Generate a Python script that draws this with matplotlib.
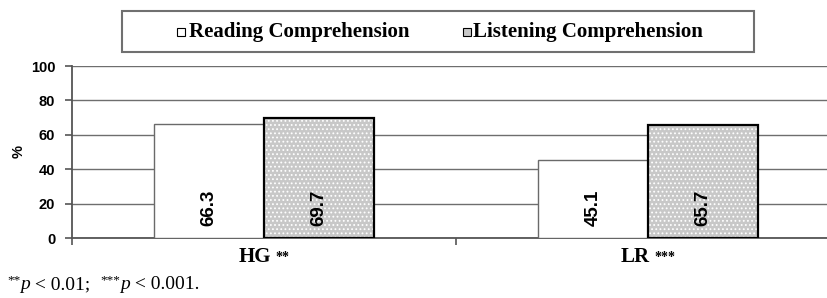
import matplotlib
matplotlib.use("Agg")
import matplotlib.pyplot as plt
from matplotlib.patches import Rectangle
from matplotlib.offsetbox import TextArea, HPacker, AnnotationBbox
import numpy as np

categories = ["HG", "LR"]
significance = ["**", "***"]
reading = [66.3, 45.1]
listening = [69.7, 65.7]
series_names = ["Reading Comprehension", "Listening Comprehension"]
yticks = [0, 20, 40, 60, 80, 100]

plt.rcParams['hatch.linewidth'] = 0.8

W, H = 827, 298
fig = plt.figure(figsize=(W / 100, H / 100), dpi=100)
ax = fig.add_axes([72 / W, (H - 238) / H, 768 / W, 172 / H])

x = np.arange(len(categories))
bw = 0.286
gray = "#c8c8c8"

ax.bar(x - bw / 2, reading, bw, color="white", edgecolor="#6a6a6a", linewidth=1.0, zorder=3)
ax.bar(x + bw / 2, listening, bw, color=gray, edgecolor="white", hatch="....", linewidth=0, zorder=3)
ax.bar(x + bw / 2, listening, bw, fill=False, edgecolor="black", linewidth=1.6, zorder=4)

for xi, v in zip(x - bw / 2, reading):
    ax.text(xi, 7, f"{v:.1f}", rotation=90, ha="center", va="bottom",
            fontsize=13.5, fontweight="bold", family="Liberation Sans", zorder=5)
for xi, v in zip(x + bw / 2, listening):
    ax.text(xi, 7, f"{v:.1f}", rotation=90, ha="center", va="bottom",
            fontsize=13.5, fontweight="bold", family="Liberation Sans", zorder=5)

ax.set_xlim(-0.5, 1.5)
ax.set_ylim(0, 100)
ax.set_yticks(yticks)
ax.set_yticklabels([str(t) for t in yticks], fontsize=10.5, fontweight="bold", family="Liberation Sans")
ax.yaxis.grid(True, color="#6e6e6e", linewidth=1.0, zorder=0)
ax.set_axisbelow(True)
ax.tick_params(axis="y", direction="out", length=5, width=1.2, color="#555555", pad=7)
ax.set_xticks([-0.5, 0.5, 1.5])
ax.set_xticklabels(["", "", ""])
ax.tick_params(axis="x", direction="out", length=5, width=1.2, color="#555555")
for s in ["top", "right"]:
    ax.spines[s].set_visible(False)
for s in ["left", "bottom"]:
    ax.spines[s].set_color("#555555")
    ax.spines[s].set_linewidth(1.3)

fig.text(19 / W, 1 - 152 / H, "%", rotation=90, ha="center", va="center",
         fontsize=10.5, fontweight="bold", family="Liberation Sans")

# category labels with significance stars
for xi, cat, sig in zip(x, categories, significance):
    t1 = TextArea(cat, textprops=dict(fontsize=15, fontweight="bold", family="Liberation Serif"))
    t2 = TextArea(sig, textprops=dict(fontsize=10, fontweight="bold", family="Liberation Serif"))
    pk = HPacker(children=[t1, t2], align="center", pad=0, sep=3)
    ab = AnnotationBbox(pk, (xi, 0), xycoords=("data", "axes fraction"),
                        xybox=(0, -14), boxcoords="offset points",
                        frameon=False, box_alignment=(0.5, 0.5), annotation_clip=False)
    ax.add_artist(ab)

# legend box
fig.add_artist(Rectangle((122 / W, 1 - 52 / H), (754 - 122) / W, 41 / H,
                         transform=fig.transFigure, fill=False,
                         edgecolor="#707070", linewidth=1.5))
sq = 8
fig.add_artist(Rectangle((177 / W, 1 - 36 / H), sq / W, sq / H, transform=fig.transFigure,
                         facecolor="white", edgecolor="black", linewidth=0.8))
fig.add_artist(Rectangle((463 / W, 1 - 36 / H), sq / W, sq / H, transform=fig.transFigure,
                         facecolor=gray, edgecolor="black", linewidth=0.8))
fig.text(189 / W, 1 - 31.5 / H, series_names[0], ha="left", va="center",
         fontsize=15, fontweight="bold", family="Liberation Serif")
fig.text(473 / W, 1 - 31.5 / H, series_names[1], ha="left", va="center",
         fontsize=15, fontweight="bold", family="Liberation Serif")

# footnote built from pieces
renderer = fig.canvas.get_renderer()
base_y = 1 - 289 / H
xpos = 7.0
pieces = [
    ("**", dict(fontsize=9.5, family="Liberation Serif"), 6),
    ("p", dict(fontsize=14, family="Liberation Serif", style="italic"), 0),
    (" < 0.01;  ", dict(fontsize=14, family="Liberation Serif"), 0),
    ("***", dict(fontsize=9.5, family="Liberation Serif"), 6),
    ("p", dict(fontsize=14, family="Liberation Serif", style="italic"), 0),
    (" < 0.001.", dict(fontsize=14, family="Liberation Serif"), 0),
]
for s, props, dy in pieces:
    t = fig.text(xpos / W, base_y + dy / H, s, ha="left", va="baseline", **props)
    xpos += t.get_window_extent(renderer).width

fig.savefig("out.png", dpi=100)
